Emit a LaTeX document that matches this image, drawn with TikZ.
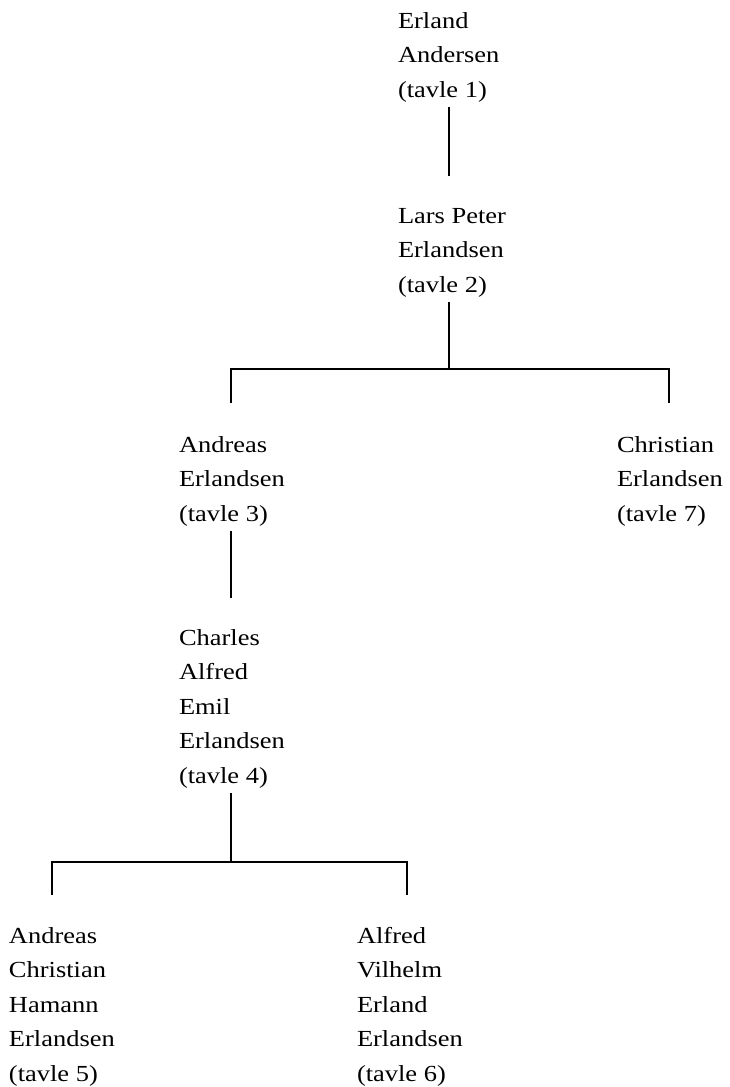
\documentclass[tikz,border=0pt]{standalone}
\usepackage{fontspec}
\setmainfont{Liberation Serif}[FakeStretch=1.15]
\newcommand{\person}[1]{\begin{tabular}[t]{@{}l@{}}#1\end{tabular}}
\tikzset{
  person/.style={anchor=base west, inner sep=0pt, outer sep=0pt,
    font=\fontsize{23}{34.5}\selectfont},
  link/.style={line width=1.2pt, line cap=butt},
}
\begin{document}
\begin{tikzpicture}[x=1pt,y=-1pt]
\useasboundingbox (0,0) rectangle (729,1087);
% persons
\node[person] (n1) at (398,28)  {\person{Erland\\Andersen\\(tavle 1)}};
\node[person] (n2) at (398,223) {\person{Lars Peter\\Erlandsen\\(tavle 2)}};
\node[person] (n3) at (179,452) {\person{Andreas\\Erlandsen\\(tavle 3)}};
\node[person] (n7) at (617,452) {\person{Christian\\Erlandsen\\(tavle 7)}};
\node[person] (n4) at (179,645) {\person{Charles\\Alfred\\Emil\\Erlandsen\\(tavle 4)}};
\node[person] (n5) at (9,943)   {\person{Andreas\\Christian\\Hamann\\Erlandsen\\(tavle 5)}};
\node[person] (n6) at (357,943) {\person{Alfred\\Vilhelm\\Erland\\Erlandsen\\(tavle 6)}};
% junction points
\coordinate (j2) at (449,369);
\coordinate (d3) at (231,403);
\coordinate (d7) at (669,403);
\coordinate (j4) at (231,862);
\coordinate (d5) at (52,895);
\coordinate (d6) at (407,895);
% connectors
\draw[link] (n1.south -| j2) -- ([yshift=22.5pt]n2.north -| j2);
\draw[link] (n2.south -| j2) -- (j2);
\draw[link] (d3) |- (j2) -| (d7);
\draw[link] (n3.south -| j4) -- ([yshift=22.5pt]n4.north -| j4);
\draw[link] (n4.south -| j4) -- (j4);
\draw[link] (d5) |- (j4) -| (d6);
\end{tikzpicture}
\end{document}
